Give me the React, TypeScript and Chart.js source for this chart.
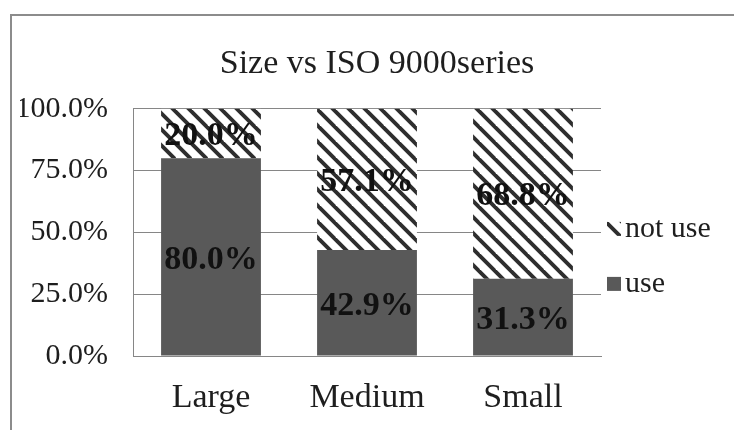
import { useEffect, useRef } from 'react';
import { Chart, registerables } from 'chart.js';

Chart.register(...registerables);

const titleText = 'Size vs ISO 9000series';
const categories = ['Large', 'Medium', 'Small'];
const seriesUse = 'use';
const seriesNotUse = 'not use';
const useValues = [80.0, 42.9, 31.3];
const notUseValues = [20.0, 57.1, 68.8];
const yTickLabels = ['0.0%', '25.0%', '50.0%', '75.0%', '100.0%'];

const FONT = "'Liberation Serif', 'Times New Roman', serif";
const TEXT = '#1e1e1e';
const GRID = '#868686';
const DARK = '#595959';

function makeHatch(): CanvasPattern | string {
  const c = document.createElement('canvas');
  c.width = 16;
  c.height = 16;
  const g = c.getContext('2d');
  if (!g) return '#fff';
  g.fillStyle = '#ffffff';
  g.fillRect(0, 0, 16, 16);
  g.strokeStyle = '#2e2e2e';
  g.lineWidth = 3.9;
  for (const k of [-16, 0, 16]) {
    g.beginPath();
    g.moveTo(k - 4, -4);
    g.lineTo(k + 20, 20);
    g.stroke();
  }
  return g.createPattern(c, 'repeat') || '#fff';
}

const dataLabelPlugin = {
  id: 'segLabels',
  afterDatasetsDraw(chart: any) {
    const ctx = chart.ctx;
    ctx.save();
    ctx.font = `bold 34px ${FONT}`;
    ctx.fillStyle = '#111';
    ctx.textAlign = 'center';
    ctx.textBaseline = 'middle';
    chart.data.datasets.forEach((ds: any, di: number) => {
      const meta = chart.getDatasetMeta(di);
      meta.data.forEach((el: any, i: number) => {
        const v = ds.data[i] as number;
        const y = (el.y + el.base) / 2 + 3;
        ctx.fillText(v.toFixed(1) + '%', el.x, y);
      });
    });
    ctx.restore();
  },
};

const legendPlugin = {
  id: 'sideLegend',
  afterDraw(chart: any) {
    const ctx = chart.ctx;
    const area = chart.chartArea;
    const items = [...chart.data.datasets].reverse();
    const x = area.right + 6;
    const mid = (area.top + area.bottom) / 2;
    const ys = [mid - 3.5, mid + 51.5];
    ctx.save();
    ctx.font = `30px ${FONT}`;
    ctx.textBaseline = 'middle';
    ctx.textAlign = 'left';
    items.forEach((ds: any, i: number) => {
      const cy = ys[i];
      ctx.fillStyle = ds.backgroundColor;
      ctx.fillRect(x, cy - 7, 14, 14);
      ctx.fillStyle = TEXT;
      ctx.fillText(ds.label, x + 18, cy);
    });
    ctx.restore();
  },
};

export default function App() {
  const ref = useRef<HTMLCanvasElement | null>(null);

  useEffect(() => {
    if (!ref.current) return;
    const hatch = makeHatch();
    const chart = new Chart(ref.current, {
      type: 'bar',
      data: {
        labels: categories,
        datasets: [
          { label: seriesUse, data: useValues, backgroundColor: DARK, borderWidth: 0 },
          { label: seriesNotUse, data: notUseValues, backgroundColor: hatch as any, borderWidth: 0 },
        ],
      },
      options: {
        responsive: false,
        animation: false,
        devicePixelRatio: 1,
        layout: { padding: { left: 20, right: 0, top: 0, bottom: 0 } },
        datasets: { bar: { categoryPercentage: 1, barPercentage: 0.64 } },
        plugins: {
          legend: { display: false },
          tooltip: { enabled: false },
          title: {
            display: true,
            text: titleText,
            color: TEXT,
            font: { family: FONT, size: 34, weight: 'normal' },
            padding: { top: 44, bottom: 24 },
          },
        },
        scales: {
          x: {
            stacked: true,
            grid: { display: false, drawTicks: false },
            border: { display: true, color: GRID, width: 1 },
            ticks: { color: TEXT, font: { family: FONT, size: 34 }, padding: 22 },
            afterFit: (s: any) => {
              s.height = 74;
            },
          },
          y: {
            stacked: true,
            min: 0,
            max: 100,
            grid: { color: GRID, lineWidth: 1, drawTicks: false },
            border: { display: true, color: GRID, width: 1 },
            ticks: {
              stepSize: 25,
              color: TEXT,
              font: { family: FONT, size: 30 },
              padding: 25,
              callback: (_v: any, i: number) => yTickLabels[i],
            },
            afterFit: (s: any) => {
              s.width = 113;
            },
          },
          legendSpace: {
            type: 'linear',
            position: 'right',
            display: true,
            grid: { display: false, drawTicks: false },
            border: { display: false },
            ticks: { display: false },
            afterFit: (s: any) => {
              s.width = 133;
            },
          },
        },
      },
      plugins: [dataLabelPlugin, legendPlugin],
    });
    return () => chart.destroy();
  }, []);

  return (
    <div style={{ position: 'absolute', left: 0, top: 0, width: 734, height: 430, overflow: 'hidden', background: '#fff' }}>
      <canvas ref={ref} width={734} height={430} style={{ position: 'absolute', left: 0, top: 0, width: 734, height: 430 }} />
      <div
        style={{
          position: 'absolute',
          left: 10,
          top: 14,
          width: 800,
          height: 500,
          borderLeft: '2px solid #8c8c8c',
          borderTop: '2px solid #8c8c8c',
          pointerEvents: 'none',
        }}
      />
    </div>
  );
}
